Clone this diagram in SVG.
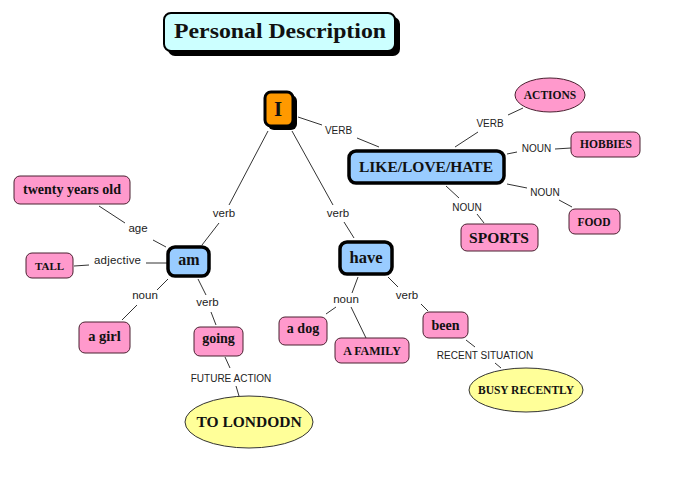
<svg xmlns="http://www.w3.org/2000/svg" width="681" height="488" viewBox="0 0 681 488">
<style>
.pink{fill:#ff99cc;stroke:#4a2030;stroke-width:1}
.blue{fill:#99ccff;stroke:#000;stroke-width:3.5}
.yel{fill:#ffff99;stroke:#333;stroke-width:1}
.nt{font-family:"Liberation Serif",serif;font-weight:bold;fill:#111;text-anchor:middle}
.lb{font-family:"Liberation Sans",Arial,sans-serif;fill:#222;text-anchor:middle}
.lu{font-size:10px}
.ll{font-size:11.5px}
#connectors line{stroke:#333;stroke-width:1}
</style>
<rect width="681" height="488" fill="#fff"/>
<g id="title">
<rect x="168" y="17" width="232" height="39" rx="7" fill="#000"/>
<rect x="164" y="13" width="231" height="38" rx="7" fill="#ccffff" stroke="#000" stroke-width="2"/>
<text class="nt" x="280" y="38" font-size="21" textLength="212" lengthAdjust="spacingAndGlyphs">Personal Description</text>
</g>
<g id="connectors">
<line x1="298" y1="117" x2="322" y2="125"/><line x1="357" y1="138" x2="379" y2="147"/>
<line x1="455" y1="147" x2="478" y2="132"/><line x1="508" y1="115" x2="523" y2="108"/>
<line x1="507" y1="154" x2="517" y2="152"/><line x1="555" y1="149" x2="571" y2="148"/>
<line x1="507" y1="184" x2="527" y2="188"/><line x1="559" y1="200" x2="572" y2="207"/>
<line x1="446" y1="186" x2="459" y2="198"/><line x1="477" y1="214" x2="484" y2="223"/>
<line x1="268" y1="131" x2="229" y2="205"/><line x1="219" y1="223" x2="202" y2="245"/>
<line x1="292" y1="131" x2="333" y2="205"/><line x1="344" y1="222" x2="354" y2="238"/>
<line x1="99" y1="206" x2="125" y2="223"/><line x1="153" y1="240" x2="166" y2="247"/>
<line x1="74" y1="266" x2="89" y2="265"/><line x1="146" y1="263" x2="167" y2="263"/>
<line x1="168" y1="279" x2="157" y2="290"/><line x1="137" y1="305" x2="122" y2="320"/>
<line x1="198" y1="279" x2="206" y2="295"/><line x1="211" y1="312" x2="216" y2="325"/>
<line x1="225" y1="357" x2="230" y2="368"/><line x1="236" y1="386" x2="239" y2="396"/>
<line x1="358" y1="277" x2="352" y2="293"/><line x1="336" y1="307" x2="326" y2="314"/><line x1="351" y1="307" x2="366" y2="338"/>
<line x1="388" y1="277" x2="398" y2="287"/><line x1="421" y1="304" x2="428" y2="311"/>
<line x1="466" y1="340" x2="475" y2="347"/><line x1="495" y1="363" x2="501" y2="368"/>
<text class="lb lu" x="338.5" y="134">VERB</text>
<text class="lb lu" x="490" y="127">VERB</text>
<text class="lb lu" x="536.5" y="152">NOUN</text>
<text class="lb lu" x="545" y="196">NOUN</text>
<text class="lb lu" x="467" y="211">NOUN</text>
<text class="lb ll" x="224" y="217">verb</text>
<text class="lb ll" x="338" y="217">verb</text>
<text class="lb ll" x="138" y="232">age</text>
<text class="lb ll" x="117.5" y="264" textLength="47">adjective</text>
<text class="lb ll" x="145" y="299">noun</text>
<text class="lb ll" x="207.5" y="306">verb</text>
<text class="lb lu" x="231" y="382">FUTURE ACTION</text>
<text class="lb ll" x="346" y="303">noun</text>
<text class="lb ll" x="407" y="299">verb</text>
<text class="lb lu" x="485" y="359">RECENT SITUATION</text>
</g>
<g id="node-I">
<rect x="268" y="95" width="29" height="35" rx="6" fill="#000"/>
<rect x="265" y="92" width="28" height="34" rx="6" fill="#ff9900" stroke="#000" stroke-width="3"/>
<text class="nt" x="278" y="116" font-size="21">I</text>
</g>
<g id="node-like">
<rect x="349" y="151" width="155" height="32" rx="7" class="blue"/>
<text class="nt" x="426" y="172" font-size="15.5">LIKE/LOVE/HATE</text>
</g>
<g id="node-actions">
<ellipse cx="550" cy="95" rx="35" ry="17" class="pink"/>
<text class="nt" x="550" y="99" font-size="11.5">ACTIONS</text>
</g>
<g id="node-hobbies">
<rect x="571" y="132" width="69" height="25" rx="6" class="pink"/>
<text class="nt" x="606" y="148" font-size="11.5">HOBBIES</text>
</g>
<g id="node-food">
<rect x="569" y="209" width="51" height="25" rx="6" class="pink"/>
<text class="nt" x="594" y="226" font-size="11.5">FOOD</text>
</g>
<g id="node-sports">
<rect x="461" y="224" width="77" height="27" rx="6" class="pink"/>
<text class="nt" x="499" y="243" font-size="15.5">SPORTS</text>
</g>
<g id="node-am">
<rect x="168" y="247" width="41" height="29" rx="7" class="blue"/>
<text class="nt" x="189" y="265" font-size="16">am</text>
</g>
<g id="node-have">
<rect x="340" y="242" width="52" height="32" rx="7" class="blue"/>
<text class="nt" x="366" y="263" font-size="16.5">have</text>
</g>
<g id="node-twenty">
<rect x="14" y="176" width="116" height="28" rx="6" class="pink"/>
<text class="nt" x="72" y="194" font-size="14">twenty years old</text>
</g>
<g id="node-tall">
<rect x="26" y="253" width="47" height="25" rx="6" class="pink"/>
<text class="nt" x="49.5" y="270" font-size="11">TALL</text>
</g>
<g id="node-girl">
<rect x="79" y="322" width="51" height="31" rx="6" class="pink"/>
<text class="nt" x="104.5" y="341" font-size="14.5">a girl</text>
</g>
<g id="node-going">
<rect x="194" y="327" width="49" height="29" rx="6" class="pink"/>
<text class="nt" x="218.5" y="343" font-size="14">going</text>
</g>
<g id="node-london">
<ellipse cx="249" cy="422" rx="64" ry="26" class="yel"/>
<text class="nt" x="249" y="427" font-size="15.5">TO LONDODN</text>
</g>
<g id="node-dog">
<rect x="279" y="317" width="48" height="28" rx="6" class="pink"/>
<text class="nt" x="303" y="333" font-size="14">a dog</text>
</g>
<g id="node-family">
<rect x="335" y="338" width="74" height="25" rx="6" class="pink"/>
<text class="nt" x="372" y="355" font-size="12">A FAMILY</text>
</g>
<g id="node-been">
<rect x="423" y="312" width="45" height="26" rx="6" class="pink"/>
<text class="nt" x="445.5" y="330" font-size="14">been</text>
</g>
<g id="node-busy">
<ellipse cx="526" cy="390" rx="57" ry="22" class="yel"/>
<text class="nt" x="526" y="394" font-size="11.5">BUSY RECENTLY</text>
</g>
</svg>
